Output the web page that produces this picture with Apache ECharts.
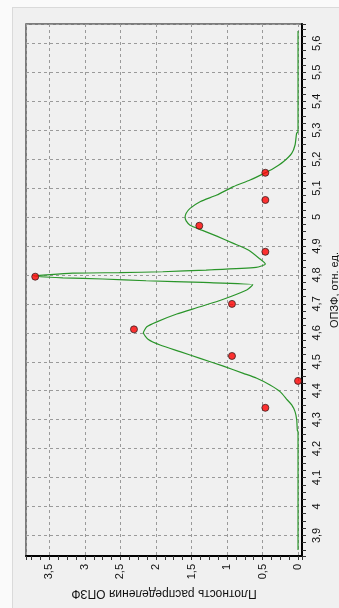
<!DOCTYPE html>
<html>
<head>
<meta charset="utf-8">
<script src="https://cdn.jsdelivr.net/npm/echarts@6/dist/echarts.min.js"></script>
<style>
  html, body { margin: 0; padding: 0; width: 339px; height: 608px; overflow: hidden; background: #fafafa; }
  #panel { position: absolute; left: 12px; top: 7px; right: 0; bottom: 0; box-sizing: border-box;
           background: #f0f0f0; border-left: 1px solid #dadada; border-top: 1px solid #dadada; }
  #chart { position: absolute; left: 0; top: 0; width: 339px; height: 608px; }
</style>
</head>
<body>
<div id="panel"></div>
<div id="chart"></div>
<script>
// Histogram points: bin centre (ОПЗФ, отн. ед.) and density
var binCentres = [4.341, 4.434, 4.520, 4.612, 4.700, 4.794, 4.880, 4.970, 5.059, 5.153];
var binDensity = [0.46, 0.00, 0.93, 2.31, 0.93, 3.70, 0.46, 1.39, 0.46, 0.46];

// Estimated density curve: ОПЗФ values and matching density
var curveX = [3.850, 4.258, 4.264, 4.299, 4.328, 4.351, 4.368, 4.397, 4.420, 4.443,
              4.460, 4.485, 4.512, 4.535, 4.558, 4.577, 4.600, 4.621, 4.638, 4.665,
              4.690, 4.716, 4.748, 4.760, 4.767, 4.774, 4.780, 4.786, 4.790, 4.796,
              4.806, 4.808, 4.811, 4.817, 4.826, 4.838, 4.857, 4.886, 4.909, 4.934,
              4.955, 4.972, 4.987, 4.999, 5.013, 5.030, 5.053, 5.076, 5.105, 5.128,
              5.151, 5.168, 5.191, 5.220, 5.249, 5.289, 5.296, 5.643];
var curveY = [0.000, 0.000, 0.010, 0.018, 0.042, 0.089, 0.150, 0.253, 0.394, 0.581,
              0.770, 1.051, 1.379, 1.661, 1.942, 2.107, 2.177, 2.129, 1.988, 1.707,
              1.379, 1.051, 0.722, 0.660, 0.637, 1.341, 2.139, 2.748, 3.311, 3.720,
              3.170, 2.515, 1.904, 1.295, 0.591, 0.460, 0.545, 0.700, 0.910, 1.144,
              1.355, 1.520, 1.575, 1.590, 1.575, 1.520, 1.379, 1.144, 0.910, 0.675,
              0.478, 0.347, 0.207, 0.089, 0.042, 0.020, 0.000, 0.000];

// Axis extents
var densityRange = [-0.056, 3.83];
var opzfRange = [3.829, 5.667];

var FONT = 'Liberation Sans';
function comma(v) { return String(+v.toFixed(2)).replace('.', ','); }

var curveData = curveX.map(function (x, i) { return [curveY[i], x]; });
var pointData = binCentres.map(function (x, i) { return [binDensity[i], x]; });

var chart = echarts.init(document.getElementById('chart'), null, { renderer: 'canvas', width: 339, height: 608 });
chart.setOption({
  animation: false,
  backgroundColor: 'transparent',
  grid: {
    left: 26, top: 24, right: 37, bottom: 52,
    outerBoundsMode: 'none',
    containLabel: false,
    show: true, backgroundColor: '#f0f0f0', borderColor: '#555', borderWidth: 1.5
  },
  xAxis: {
    type: 'value',
    inverse: true,
    position: 'bottom',
    min: densityRange[0], max: densityRange[1],
    splitNumber: 8,
    name: 'Плотность распределения ОПЗФ',
    nameLocation: 'middle',
    nameGap: 31,
    nameRotate: 180,
    nameTextStyle: { fontFamily: FONT, fontSize: 12, color: '#111' },
    axisLine: { show: true, onZero: false, lineStyle: { color: '#000', width: 2 } },
    axisTick: { show: true, inside: false, length: 4, lineStyle: { color: '#333' } },
    minorTick: { show: true, splitNumber: 4, length: 4, lineStyle: { color: '#333' } },
    axisLabel: {
      rotate: 90, margin: 8, fontFamily: FONT, fontSize: 11, color: '#111',
      showMinLabel: false, showMaxLabel: false, formatter: comma
    },
    splitLine: { show: true, lineStyle: { color: '#9a9a9a', type: [3, 3], width: 1 } }
  },
  yAxis: {
    type: 'value',
    position: 'right',
    min: opzfRange[0], max: opzfRange[1],
    splitNumber: 18,
    name: 'ОПЗФ, отн. ед.',
    nameLocation: 'middle',
    nameGap: 25,
    nameRotate: 90,
    nameTextStyle: { fontFamily: FONT, fontSize: 11, color: '#111' },
    axisLine: { show: true, onZero: false, lineStyle: { color: '#000', width: 2 } },
    axisTick: { show: true, inside: false, length: 4, lineStyle: { color: '#333' } },
    minorTick: { show: true, splitNumber: 4, length: 4, lineStyle: { color: '#333' } },
    axisLabel: {
      rotate: 90, margin: 9, fontFamily: FONT, fontSize: 11, color: '#111',
      showMinLabel: false, showMaxLabel: false, formatter: comma
    },
    splitLine: { show: true, lineStyle: { color: '#9a9a9a', type: [3, 3], width: 1 } }
  },
  series: [
    {
      type: 'line',
      data: curveData,
      showSymbol: false,
      smooth: 0.2,
      lineStyle: { color: '#2a952a', width: 1.2 },
      z: 2
    },
    {
      type: 'scatter',
      data: pointData,
      symbol: 'circle',
      symbolSize: 7,
      itemStyle: { color: '#ff0000', borderColor: '#3a2020', borderWidth: 1 },
      z: 3
    }
  ]
});
</script>
</body>
</html>
